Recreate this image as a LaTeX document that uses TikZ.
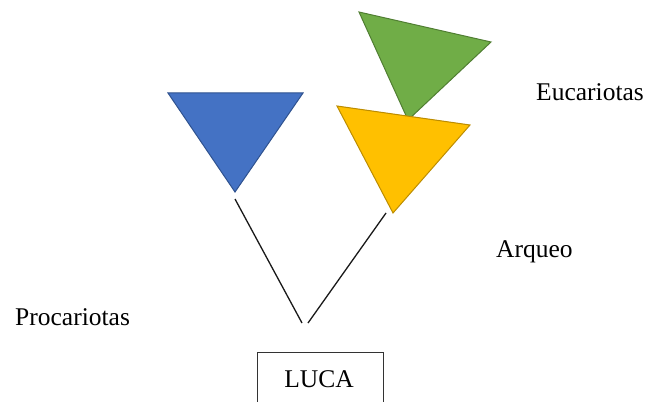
\documentclass[tikz,border=0pt]{standalone}
\usepackage{fontspec}
\setmainfont{Liberation Serif}
\definecolor{bluefill}{HTML}{4472C4}
\definecolor{blueedge}{HTML}{2F528F}
\definecolor{greenfill}{HTML}{70AD47}
\definecolor{greenedge}{HTML}{507E32}
\definecolor{yellowfill}{HTML}{FFC000}
\definecolor{yellowedge}{HTML}{BC8C00}
\begin{document}
\begin{tikzpicture}[x=1pt,y=-1pt,
  tri/.style={line width=1pt,line join=miter},
  branch/.style={draw=black!90,line width=1.3pt},
  label/.style={font=\fontsize{25.5}{30}\selectfont,anchor=base west,inner sep=0pt},
  lucabox/.style={draw=black!80,line width=1pt,minimum width=126pt,minimum height=60pt,inner sep=0pt,anchor=north west}]
\clip (0,0) rectangle (660,401);
% triangles
\filldraw[tri,fill=bluefill,draw=blueedge] (168,93) -- (303,93) -- (235,192) -- cycle;
\filldraw[tri,fill=greenfill,draw=greenedge] (359,12) -- (491,42) -- (408,120) -- cycle;
\filldraw[tri,fill=yellowfill,draw=yellowedge] (337,106) -- (470,125) -- (393,213) -- cycle;
% branch coordinates
\coordinate (bluetip) at (235,199);
\coordinate (yellowtip) at (386,213);
\coordinate (rootl) at (302,323);
\coordinate (rootr) at (308,323);
\draw[branch] (bluetip) -- (rootl);
\draw[branch] (yellowtip) -- (rootr);
% labels
\node[label] (euc) at (536,100) {Eucariotas};
\node[label] (arq) at (496,257) {Arqueo};
\node[label] (pro) at (15,325) {Procariotas};
\node[lucabox] (luca) at (257,352) {};
\node[font=\fontsize{25.5}{30}\selectfont,anchor=base,inner sep=0pt] (lucatext) at (319,387) {LUCA};
\end{tikzpicture}
\end{document}
